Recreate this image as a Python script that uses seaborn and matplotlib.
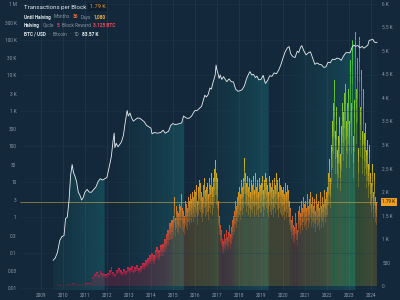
import numpy as np
import pandas as pd
import matplotlib
matplotlib.use('Agg')
import matplotlib.pyplot as plt
import matplotlib.transforms as mtrans
import seaborn as sns
from matplotlib.colors import LinearSegmentedColormap, Normalize, to_rgb
from matplotlib.patches import Polygon, Rectangle

# ---------------- data ----------------
# Transactions per block, monthly 2009-2015
tx_monthly_start = 2009.0
tx_monthly = [
    1, 1, 1, 1, 1, 2, 2, 2, 2, 2, 2, 3,                                  # 2009
    3, 3, 3, 4, 4, 5, 6, 8, 10, 40, 12, 15,                              # 2010
    25, 30, 35, 45, 50, 55, 50, 45, 40, 45, 50, 50,                      # 2011
    55, 55, 60, 60, 200, 260, 300, 240, 320, 280, 260, 250,              # 2012
    280, 330, 400, 300, 260, 350, 380, 330, 300, 360, 320, 400,          # 2013
    380, 420, 350, 400, 450, 380, 420, 500, 480, 550, 600, 650,          # 2014
    700, 650, 760, 830, 760, 880, 900, 1000, 1100, 1200, 1350, 1400,     # 2015
]
# Transactions per block, twice a month 2016-2025
tx_semi_start = 2016.0
tx_semi = [
    1500, 1900, 1450, 1700, 1600, 1850, 1550, 1750, 1700, 1950, 1650, 1600,
    1500, 1800, 1750, 1650, 1900, 1700, 1800, 1950, 1850, 2000, 1900, 2050,   # 2016
    2000, 2150, 1800, 2100, 2250, 1950, 2200, 2000, 1900, 2150, 2300, 2050,
    2100, 2200, 1950, 2300, 2150, 2250, 2400, 2100, 2300, 2500, 2680, 2400,   # 2017
    2300, 1800, 1500, 1300, 1200, 1100, 1000, 950, 1100, 1000, 1200, 1050,
    1150, 1300, 1100, 1250, 1400, 1300, 1500, 1600, 1800, 1700, 1900, 2000,   # 2018
    2100, 1950, 2250, 2100, 2300, 2500, 2720, 2400, 2200, 2350, 2100, 2300,
    2000, 2250, 2150, 2350, 2050, 2200, 2400, 2100, 2250, 2000, 2300, 2150,   # 2019
    2200, 2350, 2050, 2250, 2400, 2100, 2300, 2150, 2000, 2350, 2200, 2100,
    2250, 2050, 2300, 2150, 2400, 2100, 2250, 2000, 2300, 2150, 2100, 2050,   # 2020
    2100, 1950, 2200, 2000, 2150, 1900, 2050, 1800, 1650, 1400, 1500, 1300,
    1250, 1550, 1350, 1190, 1600, 1450, 1700, 1550, 1800, 1650, 1900, 1750,   # 2021
    1800, 1650, 1950, 1700, 1850, 1600, 2000, 1750, 1900, 1700, 1850, 1600,
    1950, 1750, 1800, 1650, 2000, 1850, 1700, 1900, 1750, 2050, 1850, 2000,   # 2022
    2100, 2400, 2700, 2300, 3000, 2600, 3500, 3900, 4380, 3300, 3800, 2900,
    3200, 3600, 2800, 3400, 3900, 3100, 3700, 4100, 4300, 3500, 3900, 4200,   # 2023
    3500, 4800, 3900, 5230, 3200, 4600, 3960, 5400, 4200, 4850, 2940, 5300,
    3800, 4600, 3300, 4200, 3250, 3700, 3470, 2900, 3100, 2600, 3000, 2400,   # 2024
    2200, 2600, 2000, 2400, 1900, 2100, 1790,                                 # 2025
]
tx_last = 1790

# BTC / USD price (left log axis)
price_t = [2010.55, 2010.65, 2010.75, 2010.86, 2010.95, 2011.05, 2011.12, 2011.2, 2011.28, 2011.35,
           2011.42, 2011.48, 2011.55, 2011.62, 2011.7, 2011.78, 2011.85, 2011.92, 2012.0, 2012.1,
           2012.2, 2012.3, 2012.4, 2012.5, 2012.6, 2012.7, 2012.8, 2012.9, 2013.0, 2013.1,
           2013.2, 2013.28, 2013.33, 2013.36, 2013.42, 2013.5, 2013.58, 2013.66, 2013.75, 2013.84,
           2013.92, 2013.97, 2014.05, 2014.12, 2014.2, 2014.3, 2014.4, 2014.5, 2014.6, 2014.7,
           2014.8, 2014.9, 2015.0, 2015.05, 2015.15, 2015.3, 2015.45, 2015.55, 2015.65, 2015.8,
           2015.9, 2016.0, 2016.1, 2016.25, 2016.4, 2016.48, 2016.55, 2016.65, 2016.75, 2016.85,
           2016.95, 2017.0, 2017.1, 2017.2, 2017.3, 2017.38, 2017.45, 2017.52, 2017.6, 2017.68,
           2017.75, 2017.8, 2017.85, 2017.92, 2017.96, 2018.0, 2018.05, 2018.1, 2018.15, 2018.22,
           2018.3, 2018.38, 2018.45, 2018.55, 2018.65, 2018.75, 2018.85, 2018.95, 2019.05, 2019.15,
           2019.25, 2019.35, 2019.45, 2019.5, 2019.58, 2019.66, 2019.75, 2019.82, 2019.9, 2020.0,
           2020.1, 2020.2, 2020.3, 2020.4, 2020.5, 2020.6, 2020.7, 2020.8, 2020.9, 2021.0,
           2021.1, 2021.2, 2021.28, 2021.35, 2021.45, 2021.55, 2021.65, 2021.72, 2021.8, 2021.86,
           2021.95, 2022.05, 2022.15, 2022.25, 2022.35, 2022.45, 2022.55, 2022.65, 2022.75, 2022.85,
           2022.95, 2023.05, 2023.15, 2023.25, 2023.35, 2023.45, 2023.55, 2023.65, 2023.75, 2023.85,
           2023.95, 2024.05, 2024.15, 2024.22, 2024.3, 2024.4, 2024.5, 2024.6, 2024.68, 2024.78,
           2024.86, 2024.92, 2025.0, 2025.08, 2025.15, 2025.22, 2025.28]
price_v = [0.06, 0.07, 0.1, 0.22, 0.28, 0.3, 0.9, 1.0, 3, 15,
           30, 18, 14, 10, 5, 4, 3, 3.5, 5, 6,
           5, 5, 6, 7, 10, 12, 11, 12, 13, 25,
           50, 140, 230, 90, 120, 95, 110, 130, 200, 500,
           1000, 700, 850, 620, 500, 560, 620, 600, 540, 480,
           380, 350, 320, 220, 240, 230, 240, 280, 230, 260,
           380, 430, 400, 420, 450, 700, 650, 600, 610, 700,
           900, 1000, 1000, 1150, 1300, 1900, 2700, 2400, 2800, 4300,
           4000, 5500, 7000, 10000, 19000, 14000, 11000, 8000, 10000, 7500,
           9000, 7500, 6500, 7800, 6500, 6400, 4000, 3500, 3600, 3900,
           5000, 8000, 11000, 12500, 10000, 10500, 8500, 9300, 7300, 7500,
           9800, 5800, 7000, 9500, 9200, 11500, 10800, 13500, 19000, 30000,
           45000, 58000, 63000, 40000, 33000, 31000, 47000, 43000, 61000, 67000,
           48000, 37000, 42000, 45000, 30000, 20000, 22000, 20000, 19500, 16500,
           16800, 23000, 22000, 28000, 27000, 30000, 29000, 26000, 34000, 42000,
           43000, 42000, 62000, 70000, 64000, 68000, 58000, 64000, 57000, 63000,
           70000, 95000, 97000, 102000, 85000, 82000, 83570]

halvings = [2009.0, 2012.9, 2016.5, 2020.36, 2024.3, 2028.3]

year_labels = list(range(2009, 2025))
left_ticks = [1e6, 3e5, 1e5, 3e4, 1e4, 3e3, 1e3, 300, 100, 30, 10, 3, 1, 0.3, 0.1, 0.03, 0.01]
left_labels = ['1 M', '300 K', '100 K', '30 K', '10 K', '3 K', '1 K', '300', '100', '30', '10',
               '3', '1', '0.3', '0.1', '0.03', '0.01']
right_ticks = [0, 500, 1000, 1500, 2000, 2500, 3000, 3500, 4000, 4500, 5000, 5500, 6000]
right_labels = ['0', '500', '1 K', '1.5 K', '2 K', '2.5 K', '3 K', '3.5 K', '4 K', '4.5 K',
                '5 K', '5.5 K', '6 K']

# ---------------- style ----------------
BG = '#13293b'
GRID = '#1f3a4f'
TICK = '#8d99a5'
sns.set_theme(style='dark', rc={'figure.facecolor': BG, 'axes.facecolor': BG,
                                'savefig.facecolor': BG})
plt.rcParams['font.family'] = ['Roboto', 'DejaVu Sans']

fig = plt.figure(figsize=(4, 3), dpi=100)
ax = fig.add_axes([20 / 400, 10 / 300, 358 / 400, 290 / 300])   # price, log, left
ax2 = ax.twinx()                                                # tx per block, right
ax.set_zorder(2)
ax2.set_zorder(1)
ax.patch.set_visible(False)
ax2.patch.set_visible(True)
ax2.patch.set_facecolor(BG)
for a in (ax, ax2):
    for s in a.spines.values():
        s.set_visible(False)
    a.grid(False)

XMIN, XMAX = 2009.05, 2025.32
YL = (10 ** -2.056, 10 ** 6.113)
YR = (-85, 6085)

# ---- teal cycle shading under the price curve ----
N = 900
tcol = np.linspace(2009.0, 2025.4, N)
alpha = np.zeros(N)
for s, e in zip(halvings[:-1], halvings[1:]):
    m = (tcol >= s) & (tcol < e)
    alpha[m] = 0.26 * ((tcol[m] - s) / (e - s)) ** 1.5
img = np.zeros((1, N, 4))
img[..., :3] = to_rgb('#22a3a3')
img[..., 3] = alpha
im = ax2.imshow(img, extent=[2009.0, 2025.4, YR[0], YR[1]], aspect='auto', origin='lower',
                interpolation='bilinear', zorder=0.5)
verts = list(zip(price_t, price_v)) + [(price_t[-1], 1e-4), (price_t[0], 1e-4)]
clip_poly = Polygon(verts, closed=True, transform=ax.transData)
im.set_clip_path(clip_poly)

# ---- grid ----
for y in year_labels:
    ax2.axvline(y + 1, color=GRID, lw=0.5, zorder=0.2)

# ---- tx per block bars: dim body, bright tips ----
cmap = LinearSegmentedColormap.from_list('tx', [
    (0.0, '#c0103a'), (300 / 5500, '#e8204c'), (1000 / 5500, '#ee3a34'),
    (1500 / 5500, '#f07020'), (2000 / 5500, '#f0a018'), (2500 / 5500, '#e6c41a'),
    (3200 / 5500, '#c4d622'), (4200 / 5500, '#78da2a'), (1.0, '#3ce040')])
norm = Normalize(0, 5500)
layers = [(0.0, 0.2), (0.72, 0.3), (0.82, 0.35), (0.9, 0.4), (0.95, 0.45)]

def draw_bars(start, dt, vals):
    h = np.asarray(vals, dtype=float)
    x = start + (np.arange(len(h)) + 0.5) * dt
    cols = cmap(norm(h))
    for f, a in layers:
        ax2.bar(x, h * (1 - f), bottom=h * f, width=dt, color=cols, alpha=a,
                linewidth=0, antialiased=True, zorder=1)

draw_bars(tx_monthly_start, 1 / 12, tx_monthly)
draw_bars(tx_semi_start, 1 / 24, tx_semi)

ax2.axhline(tx_last, color='#c9a548', lw=0.5, alpha=0.85, zorder=3)

# ---- price line (seaborn) ----
pdf = pd.DataFrame({'t': price_t, 'price': price_v})
sns.lineplot(data=pdf, x='t', y='price', ax=ax, color='#e9eef2', linewidth=0.6,
             estimator=None, sort=False, zorder=5)
for k in range(-2, 7):
    ax.axhline(10.0 ** k, color=GRID, lw=0.5, alpha=0.5, zorder=0.1)

# ---- axes ----
ax.set_yscale('log')
ax.set_xlim(XMIN, XMAX)
ax.set_ylim(*YL)
ax2.set_ylim(*YR)
ax.set_xlabel('')
ax.set_ylabel('')
ax2.set_ylabel('')

ax.set_yticks(left_ticks)
ax.set_yticklabels(left_labels)
ax.yaxis.set_minor_locator(matplotlib.ticker.NullLocator())
ax.set_xticks([y + 1 for y in year_labels])
ax.set_xticklabels([str(y) for y in year_labels])
ax.tick_params(axis='y', length=0, pad=2.5, labelsize=3.4, colors=TICK)
ax.tick_params(axis='x', length=0, pad=2.5, labelsize=3.4, colors=TICK)
ax2.set_yticks(right_ticks)
ax2.set_yticklabels(right_labels)
ax2.tick_params(axis='y', length=0, pad=3, labelsize=3.4, colors=TICK)

# last value label on right axis
trans = mtrans.blended_transform_factory(ax2.transAxes, ax2.transData)
ax2.text(1.012, tx_last, '1.79 K', transform=trans, ha='left', va='center', fontsize=3.4,
         color='#2a1a08', zorder=10, clip_on=False,
         bbox=dict(boxstyle='square,pad=0.35', fc='#f0a020', ec='none'))

# ---- header legend ----
renderer = fig.canvas.get_renderer()

def text_row(x_px, y_px, parts, size):
    x = x_px
    for txt, col, wt in parts:
        t = fig.text(x / 400, 1 - y_px / 300, txt, color=col, fontsize=size, fontweight=wt,
                     va='center', ha='left')
        bb = t.get_window_extent(renderer=renderer)
        x = x + bb.width + 2.6

W = '#dfe6ec'
G = '#87939e'
text_row(24, 7, [('Transactions per Block', W, 'normal')], 4.4)
fig.text(90 / 400, 1 - 7 / 300, '1.79 K', color='#f0a030', fontsize=4.0, va='center',
         ha='left', bbox=dict(boxstyle='square,pad=0.3', fc='#0f2030', ec='none'))
text_row(24, 17, [('Until Halving', W, 'bold'), ('Months', G, 'normal'), ('36', '#f06a3a', 'bold'),
                  ('Days', G, 'normal'), ('1,080', '#f0b040', 'bold')], 3.4)
text_row(24, 25.5, [('Halving', W, 'bold'), ('Cycle', G, 'normal'), ('5', '#e0407a', 'bold'),
                    ('Block Reward', G, 'normal'), ('3.125 BTC', '#f04a5a', 'bold')], 3.4)
text_row(24, 34, [('BTC / USD', W, 'bold'), ('·', G, 'normal'), ('Bitcoin', G, 'normal'),
                  ('·', G, 'normal'), ('1D', G, 'normal'), ('83.57 K', '#eef2f5', 'bold')], 3.4)

# fullscreen icon (top right)
fig.add_artist(Rectangle((366 / 400, 1 - 9 / 300), 7 / 400, 6 / 300, transform=fig.transFigure,
                         fill=False, ec='#6a7a88', lw=0.4, ls=(0, (1, 1))))

fig.savefig('out.png', dpi=100, facecolor=BG)
